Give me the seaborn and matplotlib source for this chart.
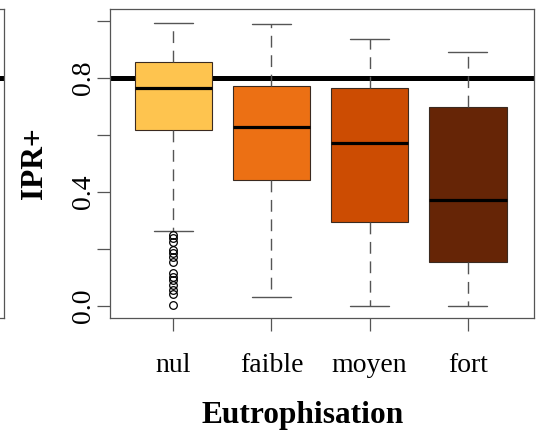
import numpy as np
import pandas as pd
import matplotlib
matplotlib.use("Agg")
import matplotlib.pyplot as plt
import seaborn as sns

# ---- values ----
categories = ["nul", "faible", "moyen", "fort"]
colors = ["#fec44f", "#ec7014", "#cc4c02", "#662506"]
whisker_low = [0.262, 0.033, 0.000, 0.000]
q1 = [0.618, 0.442, 0.294, 0.154]
median = [0.764, 0.629, 0.573, 0.372]
q3 = [0.857, 0.772, 0.764, 0.699]
whisker_high = [0.994, 0.989, 0.937, 0.892]
outliers_nul = [0.249, 0.238, 0.226, 0.196, 0.185, 0.173, 0.155,
                0.116, 0.103, 0.091, 0.074, 0.056, 0.042, 0.004]
outliers = [outliers_nul, [], [], []]
reference_line = 0.8
yticks = [0.0, 0.2, 0.4, 0.6, 0.8, 1.0]
ytick_labels = ["0.0", "", "0.4", "", "0.8", ""]

# ---- build a table whose quartiles/whiskers equal the values above ----
rows = []
for i, cat in enumerate(categories):
    o = len(outliers[i])
    a = o + 3
    vals = (list(outliers[i]) + [whisker_low[i]] + [q1[i]] * a + [median[i]]
            + [q3[i]] * a + [whisker_high[i]] * (o + 1))
    rows += [(cat, v) for v in vals]
df = pd.DataFrame(rows, columns=["Eutrophisation", "IPR+"])

sns.set_theme(style="white")
plt.rcParams["font.family"] = ["Liberation Serif", "DejaVu Serif"]
plt.rcParams["text.color"] = "black"
plt.rcParams["axes.labelcolor"] = "black"
plt.rcParams["xtick.labelcolor"] = "black"
plt.rcParams["ytick.labelcolor"] = "black"

W, H = 536, 432
fig = plt.figure(figsize=(W / 100, H / 100), dpi=100)
ax = fig.add_axes([110 / W, 1 - 318 / H, 424 / W, 309 / H])

frame_col = "#555555"
ax.axhline(reference_line, color="black", lw=3.6, zorder=1)

sns.boxplot(data=df, x="Eutrophisation", y="IPR+", hue="Eutrophisation",
            order=categories, hue_order=categories, palette=colors,
            saturation=1, width=0.79, whis=1.5, legend=False, ax=ax,
            linecolor="#3a2a20", linewidth=0.8,
            boxprops=dict(zorder=2),
            medianprops=dict(color="black", linewidth=2.3),
            whiskerprops=dict(color=frame_col, linewidth=1.0, linestyle=(0, (8.5, 5.5))),
            capprops=dict(color=frame_col, linewidth=1.0),
            flierprops=dict(marker="o", markersize=5.5, markerfacecolor="none",
                            markeredgecolor="black", markeredgewidth=0.9))

ax.set_xlim(-0.645, 3.675)
ax.set_ylim(-0.042, 1.042)
ax.set_yticks(yticks)
ax.set_yticklabels(ytick_labels, rotation=90, va="center", fontsize=20)
ax.set_xticks(range(len(categories)))
ax.set_xticklabels(categories, fontsize=20)
ax.tick_params(axis="both", which="both", length=9.5, width=0.9, color=frame_col,
               direction="out", left=True, bottom=True, labelcolor="black")
ax.tick_params(axis="y", pad=0.5)
ax.tick_params(axis="x", pad=15.5)
for s in ax.spines.values():
    s.set_visible(True)
    s.set_color(frame_col)
    s.set_linewidth(0.9)

ax.set_xlabel("Eutrophisation", fontsize=22.6, fontweight="bold", va="center",
              color="black")
ax.xaxis.set_label_coords(0.455, -0.316)
ax.set_ylabel("IPR+", fontsize=22.6, fontweight="bold", va="center", color="black")
ax.yaxis.set_label_coords(-0.177, 0.5)

# partial neighbouring panel at the far left edge
ax0 = fig.add_axes([-0.2, 1 - 318 / H, 0.2 + 3.5 / W, 309 / H])
ax0.set_ylim(-0.042, 1.042)
ax0.axhline(reference_line, color="black", lw=3.6, zorder=1)
ax0.set_xticks([])
ax0.set_yticks([])
for s in ax0.spines.values():
    s.set_visible(True)
    s.set_color(frame_col)
    s.set_linewidth(0.9)

fig.savefig("out.png", dpi=100)
